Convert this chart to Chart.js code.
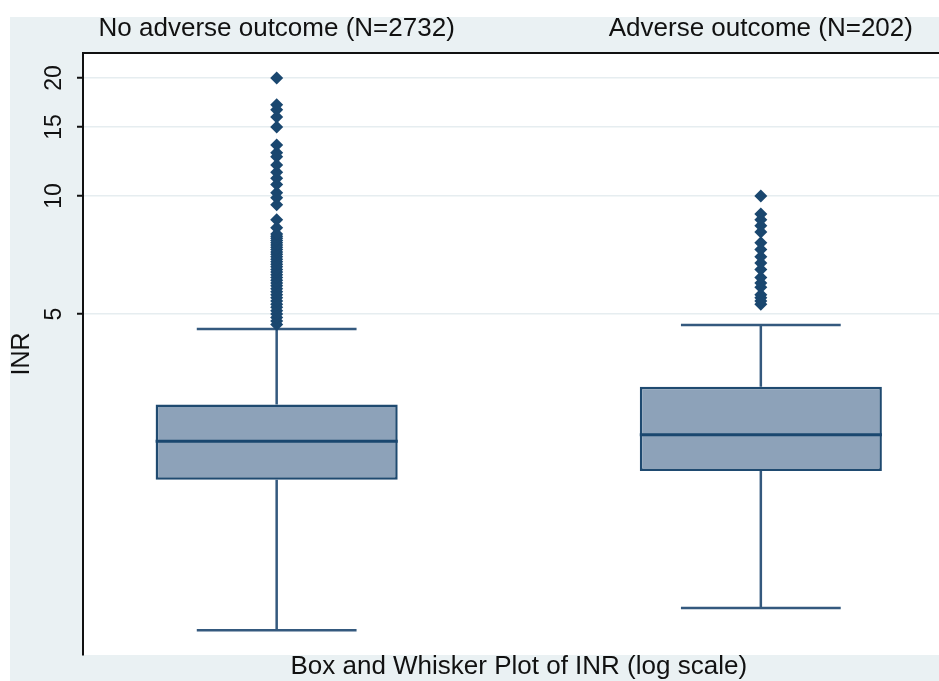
<!DOCTYPE html>
<html>
<head>
<meta charset="utf-8">
<script src="https://cdn.jsdelivr.net/npm/chart.js@4.4.1/dist/chart.umd.min.js"></script>
<style>
  html, body { margin: 0; padding: 0; background: #fff; overflow: hidden; }
  body { width: 939px; height: 681px; }
  canvas { display: block; }
</style>
</head>
<body>
<!-- the plot region runs a little past the right edge of the picture, as in the original -->
<canvas id="canvas" width="961" height="681"></canvas>
<script>
const canvas = document.getElementById("canvas");

// groups shown above the boxes
const groups = ['No adverse outcome (N=2732)', 'Adverse outcome (N=202)'];

// box statistics (INR)
const lowerWhisker = [0.78, 0.89];
const q1 = [1.89, 1.99];
const median = [2.37, 2.46];
const q3 = [2.94, 3.26];
const upperWhisker = [4.58, 4.69];

// outside values
const outliersNoAdverse = [
  4.7, 4.8, 4.9, 5.0, 5.1, 5.2, 5.3, 5.4, 5.5, 5.6, 5.7, 5.8, 5.9, 6.0,
  6.1, 6.2, 6.3, 6.4, 6.5, 6.6, 6.7, 6.8, 6.9, 7.0, 7.1, 7.2, 7.3, 7.4,
  7.5, 7.6, 7.7, 7.8, 7.9, 8.0, 8.3, 8.7, 9.5, 9.9, 10.2, 10.7, 11.1,
  11.5, 12.0, 12.6, 12.9, 13.5, 15.0, 15.9, 16.6, 17.1, 20.0
];
const outliersAdverse = [
  5.3, 5.4, 5.5, 5.6, 5.85, 6.0, 6.2, 6.5, 6.75, 7.0, 7.3, 7.6,
  8.1, 8.4, 8.7, 9.0, 10.0
];

const yTicks = [5, 10, 15, 20];

const boxWidth = 0.5;   // in x units (one unit = distance between groups)
const capWidth = 0.33;
const textColor = '#111';
const navy = '#1a476f';

const fontFamily = '"Liberation Sans", Arial, sans-serif';

const background = {
  id: 'background',
  beforeDraw(chart) {
    const { ctx, width, height, chartArea } = chart;
    ctx.save();
    ctx.fillStyle = '#fff';
    ctx.fillRect(0, 0, width, height);
    ctx.fillStyle = '#eaf1f3';
    ctx.fillRect(10, 17, width - 10, height - 17);
    ctx.fillStyle = '#fff';
    ctx.fillRect(chartArea.left, chartArea.top, chartArea.right - chartArea.left, chartArea.bottom - chartArea.top);
    ctx.restore();
  }
};

// whiskers and median lines, drawn right after the boxes
const whiskers = {
  id: 'whiskers',
  afterDatasetDraw(chart, args) {
    if (args.index !== 1) return;
    const { ctx, scales: { x, y } } = chart;
    const bars = chart.getDatasetMeta(1).data;
    ctx.save();
    ctx.lineCap = 'butt';
    groups.forEach((g, i) => {
      const cx = x.getPixelForValue(i + 1);
      const capHalf = Math.abs(x.getPixelForValue(i + 1 + capWidth / 2) - cx);
      ctx.strokeStyle = '#34597e';
      ctx.lineWidth = 2.5;
      ctx.beginPath();
      ctx.moveTo(cx, y.getPixelForValue(q3[i]));
      ctx.lineTo(cx, y.getPixelForValue(upperWhisker[i]));
      ctx.moveTo(cx - capHalf, y.getPixelForValue(upperWhisker[i]));
      ctx.lineTo(cx + capHalf, y.getPixelForValue(upperWhisker[i]));
      ctx.moveTo(cx, y.getPixelForValue(q1[i]));
      ctx.lineTo(cx, y.getPixelForValue(lowerWhisker[i]));
      ctx.moveTo(cx - capHalf, y.getPixelForValue(lowerWhisker[i]));
      ctx.lineTo(cx + capHalf, y.getPixelForValue(lowerWhisker[i]));
      ctx.stroke();

      const bar = bars[i];
      ctx.strokeStyle = navy;
      ctx.lineWidth = 3;
      ctx.beginPath();
      ctx.moveTo(bar.x - bar.width / 2, y.getPixelForValue(median[i]));
      ctx.lineTo(bar.x + bar.width / 2, y.getPixelForValue(median[i]));
      ctx.stroke();
    });
    ctx.restore();
  }
};

const groupTicks = axis => { axis.ticks = groups.map((g, i) => ({ value: i + 1 })); };

// keep the plot area fixed: no extra room reserved for the long group labels
const fixedHeight = h => s => {
  s.height = h;
  s.paddingLeft = 0;
  s.paddingRight = 0;
};

const chart = new Chart(canvas, {
  type: 'bar',
  data: {
    datasets: [{
      type: 'scatter',
      data: outliersNoAdverse.map(v => ({ x: 1, y: v }))
        .concat(outliersAdverse.map(v => ({ x: 2, y: v }))),
      pointStyle: 'rectRot',
      pointRadius: 6.5,
      backgroundColor: navy,
      borderColor: navy,
      borderWidth: 0,
      xAxisID: 'x',
      yAxisID: 'y'
    }, {
      type: 'bar',
      data: groups.map((g, i) => ({ x: i + 1, y: [q1[i], q3[i]] })),
      backgroundColor: '#8da2b9',
      borderColor: '#1f4a70',
      borderWidth: 2.5,
      borderSkipped: false,
      barPercentage: boxWidth,
      categoryPercentage: 1,
      xAxisID: 'x',
      yAxisID: 'y'
    }]
  },
  options: {
    responsive: false,
    animation: false,
    events: [],
    layout: { padding: { top: 17, left: 10, right: 0, bottom: 0 } },
    plugins: {
      legend: { display: false },
      tooltip: { enabled: false }
    },
    scales: {
      x: {
        type: 'linear',
        position: 'bottom',
        offset: false,
        min: 0.6,
        max: 2.4,
        afterBuildTicks: groupTicks,
        afterFit: fixedHeight(26),
        ticks: { display: false },
        grid: { display: false, drawTicks: false },
        border: { display: false },
        title: {
          display: true,
          text: 'Box and Whisker Plot of INR (log scale)',
          color: textColor,
          font: { family: fontFamily, size: 26, lineHeight: 1 },
          padding: { top: 0, bottom: 1 }
        }
      },
      xTop: {
        type: 'linear',
        position: 'top',
        offset: false,
        min: 0.6,
        max: 2.4,
        afterBuildTicks: groupTicks,
        afterFit: fixedHeight(36),
        ticks: {
          autoSkip: false,
          maxRotation: 0,
          padding: 9,
          color: textColor,
          font: { family: fontFamily, size: 26 },
          callback: (v, i) => groups[i]
        },
        grid: { display: false, drawTicks: false },
        border: { display: true, color: '#111', width: 2 }
      },
      y: {
        type: 'logarithmic',
        position: 'left',
        min: 0.6748,
        max: 23.17,
        afterBuildTicks: axis => { axis.ticks = yTicks.map(v => ({ value: v })); },
        afterFit: s => {
          s.width = 73;
          s.paddingTop = 0;
          s.paddingBottom = 0;
        },
        ticks: {
          minRotation: 90,
          maxRotation: 90,
          crossAlign: 'center',
          padding: 10,
          color: textColor,
          font: { family: fontFamily, size: 23 },
          callback: v => String(v)
        },
        grid: {
          color: '#e6edf0',
          lineWidth: 1.5,
          drawTicks: true,
          tickLength: 6,
          tickColor: '#111',
          tickWidth: 2
        },
        border: { display: true, color: '#111', width: 2 },
        title: {
          display: true,
          text: 'INR',
          color: textColor,
          font: { family: fontFamily, size: 25, lineHeight: 1 },
          padding: { top: 0, bottom: 0 }
        }
      }
    }
  },
  plugins: [background, whiskers]
});
</script>
</body>
</html>
